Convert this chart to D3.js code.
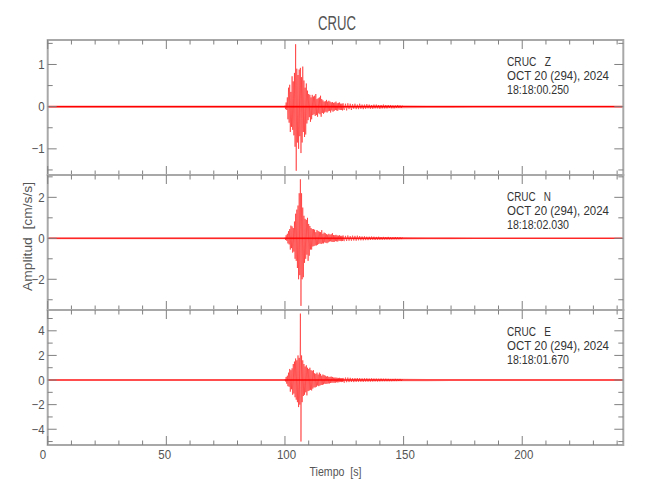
<!DOCTYPE html>
<html><head><meta charset="utf-8">
<script src="https://cdn.jsdelivr.net/npm/d3@7"></script>
<style>
html,body{margin:0;padding:0;background:#fff;}
svg text{font-family:'Liberation Sans','Arial',sans-serif;}
</style></head><body>
<svg id="chart" width="650" height="500"></svg>
<script>
// ---------------- DATA ----------------
const title = "CRUC";
const station = "CRUC";
const components = ["Z", "N", "E"];
const dateLabel = "OCT 20 (294), 2024";
const startTimes = ["18:18:00.250", "18:18:02.030", "18:18:01.670"];
const xLabel = "Tiempo  [s]";
const yLabel = "Amplitud  [cm/s/s]";
const xDomain = [0, 242.6];
const xTickLabels = [0, 50, 100, 150, 200];

// Y axes per component
const yDomainZ = [-1.62, 1.58];
const yDomainN = [-3.5, 3.09];
const yDomainE = [-5.28, 5.69];
const yTicksZ = [-1, 0, 1];
const yTicksN = [-2, 0, 2];
const yTicksE = [-4, -2, 0, 2, 4];
const yMinorZ = [-1.5, -0.5, 0.5, 1.5];
const yMinorN = [-3, -1, 1, 3];
const yMinorE = [-5, -3, -1, 1, 3, 5];

// Strong-motion part: peak amplitudes every 0.25 s from 100.00 s (one row per second)
const burstStart = 100.0, burstStep = 0.25;
const burstZ = [
  0.03, -0.06, 0.10, -0.08,
  0.22, -0.30, 0.45, -0.38,
  0.52, -0.60, 0.35, -0.48,
  0.72, -0.55, 0.60, -0.68,
  0.80, -0.95, 1.48, -1.52,
  0.90, -0.85, 0.75, -1.00,
  0.88, -0.70, 0.92, -1.10,
  0.70, -0.85, 0.95, -0.60,
  0.62, -0.72, 0.45, -0.66,
  0.55, -0.40, 0.38, -0.32,
  0.30, -0.25, 0.28, -0.36,
  0.22, -0.30, 0.28, -0.20,
  0.24, -0.18, 0.26, -0.22,
  0.30, -0.20, 0.18, -0.24,
  0.20, -0.16, 0.22, -0.18,
  0.26, -0.24, 0.18, -0.15,
  0.15, -0.17, 0.12, -0.14,
  0.13, -0.12, 0.16, -0.14,
  0.12, -0.11, 0.14, -0.10,
  0.12, -0.14, 0.10, -0.09,
  0.11, -0.12, 0.09, -0.10,
  0.10, -0.08, 0.12, -0.09,
  0.08, -0.10, 0.09, -0.07,
  0.10, -0.08, 0.07, -0.08,
  0.07, -0.09, 0.08, -0.06
];
const burstN = [
  0.04, -0.08, 0.15, -0.12,
  0.22, -0.25, 0.35, -0.30,
  0.45, -0.55, 0.62, -0.48,
  0.58, -0.70, 0.50, -0.65,
  0.82, -1.00, 1.20, -1.10,
  1.40, -1.45, 1.60, -2.00,
  2.20, -1.80, 2.88, -3.30,
  2.20, -2.00, 1.50, -1.90,
  1.10, -1.20, 0.95, -1.00,
  0.90, -0.80, 1.00, -1.10,
  0.70, -0.85, 0.60, -0.55,
  0.50, -0.55, 0.45, -0.40,
  0.45, -0.38, 0.42, -0.35,
  0.30, -0.35, 0.40, -0.32,
  0.35, -0.28, 0.32, -0.25,
  0.30, -0.28, 0.40, -0.25,
  0.22, -0.25, 0.28, -0.20,
  0.25, -0.22, 0.20, -0.24,
  0.18, -0.20, 0.22, -0.16,
  0.18, -0.15, 0.20, -0.17,
  0.25, -0.18, 0.16, -0.18,
  0.15, -0.14, 0.17, -0.15,
  0.14, -0.16, 0.13, -0.12,
  0.15, -0.13, 0.12, -0.14,
  0.12, -0.13, 0.14, -0.11
];
const burstE = [
  0.08, -0.12, 0.25, -0.30,
  0.35, -0.50, 0.60, -0.55,
  0.90, -0.95, 0.80, -0.75,
  0.95, -1.20, 1.30, -1.10,
  1.50, -1.40, 1.75, -1.60,
  1.60, -1.80, 2.00, -2.20,
  1.80, -2.00, 5.40, -5.00,
  2.00, -1.80, 1.60, -1.30,
  1.30, -1.20, 1.10, -1.00,
  1.20, -1.25, 1.00, -0.90,
  0.90, -0.85, 1.00, -0.80,
  0.80, -0.85, 0.75, -0.70,
  0.80, -0.60, 0.55, -0.60,
  0.50, -0.55, 0.60, -0.45,
  0.45, -0.50, 0.60, -0.45,
  0.50, -0.40, 0.35, -0.40,
  0.45, -0.35, 0.40, -0.30,
  0.35, -0.32, 0.28, -0.30,
  0.32, -0.28, 0.25, -0.28,
  0.26, -0.24, 0.28, -0.22,
  0.25, -0.22, 0.20, -0.22,
  0.20, -0.22, 0.20, -0.18,
  0.18, -0.20, 0.17, -0.18,
  0.18, -0.16, 0.15, -0.17,
  0.16, -0.15, 0.17, -0.14
];

// Coda: peak amplitudes every 0.5 s from 125.0 s (one row per 5 s)
const codaStart = 125.0, codaStep = 0.5;
const codaZ = [
  -0.08, 0.07, -0.09, 0.08, -0.06, 0.07, -0.08, 0.06, -0.05, 0.07,
  -0.06, 0.05, -0.06, 0.07, -0.05, 0.05, -0.06, 0.05, -0.05, 0.06,
  -0.04, 0.05, -0.05, 0.04, -0.05, 0.05, -0.04, 0.05, -0.04, 0.04,
  -0.05, 0.04, -0.04, 0.05, -0.04, 0.04, -0.04, 0.04, -0.03, 0.04,
  -0.04, 0.03, -0.04, 0.03, -0.03, 0.04, -0.03, 0.03, -0.03, 0.03
];
const codaN = [
  -0.14, 0.12, -0.13, 0.14, -0.12, 0.11, -0.12, 0.13, -0.11, 0.12,
  -0.12, 0.13, -0.10, 0.11, -0.10, 0.09, -0.10, 0.10, -0.09, 0.08,
  -0.09, 0.08, -0.08, 0.09, -0.07, 0.08, -0.08, 0.07, -0.07, 0.08,
  -0.07, 0.06, -0.07, 0.07, -0.06, 0.06, -0.06, 0.07, -0.06, 0.05,
  -0.06, 0.05, -0.05, 0.06, -0.05, 0.05, -0.05, 0.05, -0.04, 0.05
];
const codaE = [
  -0.22, 0.20, -0.18, 0.20, -0.17, 0.18, -0.16, 0.15, -0.17, 0.15,
  -0.15, 0.16, -0.14, 0.15, -0.14, 0.13, -0.15, 0.14, -0.13, 0.14,
  -0.13, 0.12, -0.13, 0.14, -0.12, 0.12, -0.11, 0.12, -0.12, 0.11,
  -0.11, 0.12, -0.10, 0.11, -0.10, 0.11, -0.10, 0.10, -0.10, 0.09,
  -0.10, 0.09, -0.09, 0.10, -0.09, 0.09, -0.08, 0.09, -0.08, 0.08
];

// Background noise half-width over the whole record
const noiseTimes = [0,10,20,30,40,50,60,70,80,90,100,110,120,130,140,150,160,170,180,190,200,210,220,230,240,242.6];
const noiseZ = [0.03,0.03,0.03,0.03,0.03,0.03,0.03,0.03,0.03,0.03,0.03,0.03,0.03,0.03,0.035,0.035,0.03,0.03,0.025,0.025,0.025,0.025,0.025,0.025,0.025,0.025];
const noiseN = [0.05,0.05,0.05,0.05,0.05,0.05,0.05,0.05,0.05,0.05,0.05,0.05,0.05,0.05,0.06,0.06,0.05,0.05,0.04,0.04,0.04,0.04,0.04,0.04,0.04,0.04];
const noiseE = [0.08,0.08,0.08,0.08,0.08,0.08,0.08,0.08,0.08,0.08,0.08,0.08,0.08,0.1,0.1,0.1,0.09,0.08,0.08,0.08,0.08,0.08,0.08,0.08,0.08,0.08];

// ---------------- LAYOUT ----------------
const left = 47.7, right = 623.3, top0 = 40, panelH = 135;
const traceColor = "#ff0000";
const frameColor = "#a8a8a8";
const tickColor = "#808080";
const textColor = "#555";

const svg = d3.select("#chart");
const x = d3.scaleLinear().domain(xDomain).range([left, right]);

function fitWidth(sel, w) {
  sel.attr("textLength", w).attr("lengthAdjust", "spacingAndGlyphs");
  return sel;
}
let condenseK = 0.9;
function condense(sel) {
  const w = sel.node().getComputedTextLength();
  return fitWidth(sel, w * condenseK);
}

// measure uniform condensation from the date label (target width ~102 px)
{
  const probe = svg.append("text").attr("font-size", 12.5).text(dateLabel);
  condenseK = 102 / probe.node().getComputedTextLength();
  probe.remove();
}

const panels = [
  {comp: components[0], time: startTimes[0], burst: burstZ, coda: codaZ, noise: noiseZ, domain: yDomainZ, ticks: yTicksZ, minor: yMinorZ},
  {comp: components[1], time: startTimes[1], burst: burstN, coda: codaN, noise: noiseN, domain: yDomainN, ticks: yTicksN, minor: yMinorN},
  {comp: components[2], time: startTimes[2], burst: burstE, coda: codaE, noise: noiseE, domain: yDomainE, ticks: yTicksE, minor: yMinorE}
];

const xTickVals = d3.range(0, xDomain[1], 10);
const fmt = v => (v < 0 ? "\u2212" + Math.abs(v) : String(v));

panels.forEach((p, i) => {
  const y0 = top0 + i * panelH, y1 = y0 + panelH;
  const y = d3.scaleLinear().domain(p.domain).range([y1, y0]);
  const g = svg.append("g");

  const clipId = "clip" + i;
  svg.append("clipPath").attr("id", clipId)
    .append("rect").attr("x", left).attr("y", y0).attr("width", right - left).attr("height", panelH);

  const tg = g.append("g").attr("clip-path", `url(#${clipId})`);

  // noise band
  const noiseData = noiseTimes.map((t, k) => ({t, a: p.noise[k]}));
  tg.append("path").datum(noiseData)
    .attr("d", d3.area().x(d => x(d.t)).y0(d => y(-d.a)).y1(d => y(d.a)))
    .attr("fill", traceColor).attr("opacity", 0.4);
  // baseline trace
  tg.append("path").datum([xDomain[0], xDomain[1]])
    .attr("d", d3.line().x(d => x(d)).y(() => y(0)))
    .attr("stroke", traceColor).attr("stroke-width", 1.1).attr("fill", "none");
  // event trace: burst then coda
  const pts = p.burst.map((v, k) => ({t: burstStart + k * burstStep, v}))
    .concat(p.coda.map((v, k) => ({t: codaStart + k * codaStep, v})));
  tg.append("path").datum(pts)
    .attr("d", d3.line().x(d => x(d.t)).y(d => y(d.v)))
    .attr("stroke", traceColor).attr("stroke-width", 0.5).attr("fill", "none")
    .attr("stroke-linejoin", "round");

  // frame
  g.append("rect").attr("x", left).attr("y", y0).attr("width", right - left).attr("height", panelH)
    .attr("fill", "none").attr("stroke", frameColor).attr("stroke-width", 2);

  // x ticks top & bottom (inward)
  xTickVals.forEach(v => {
    const len = v % 50 === 0 ? 9 : 4.5;
    g.append("line").attr("x1", x(v)).attr("x2", x(v)).attr("y1", y0).attr("y2", y0 + len)
      .attr("stroke", tickColor).attr("stroke-width", 1);
    g.append("line").attr("x1", x(v)).attr("x2", x(v)).attr("y1", y1).attr("y2", y1 - len)
      .attr("stroke", tickColor).attr("stroke-width", 1);
  });
  // y ticks left & right
  p.ticks.forEach(v => {
    [[left, 9], [right, -9]].forEach(([xx, l]) =>
      g.append("line").attr("x1", xx).attr("x2", xx + l).attr("y1", y(v)).attr("y2", y(v))
        .attr("stroke", tickColor).attr("stroke-width", 1));
    condense(g.append("text").attr("x", left - 3).attr("y", y(v)).attr("dy", "0.36em")
      .attr("text-anchor", "end").attr("font-size", 12.5).attr("fill", textColor).text(fmt(v)));
  });
  p.minor.forEach(v => {
    [[left, 5], [right, -5]].forEach(([xx, l]) =>
      g.append("line").attr("x1", xx).attr("x2", xx + l).attr("y1", y(v)).attr("y2", y(v))
        .attr("stroke", tickColor).attr("stroke-width", 1));
  });

  // annotation
  const annLines = [[station + "   " + p.comp, 44], [dateLabel, 102], [p.time, 62]];
  annLines.forEach(([txt, w], k) => {
    fitWidth(g.append("text").attr("x", 507).attr("y", y0 + 25.7 + k * 14.2)
      .attr("font-size", 12.5).attr("fill", "#333").style("white-space", "pre").text(txt), w);
  });

  // x tick labels under last panel
  if (i === panels.length - 1) {
    xTickLabels.forEach(v => {
      condense(g.append("text").attr("x", x(v) - 8).attr("y", y1 + 14)
        .attr("font-size", 12.5).attr("fill", textColor).text(v));
    });
  }
});

// titles
fitWidth(svg.append("text").attr("x", 318).attr("y", 30)
  .attr("font-size", 21).attr("fill", "#555").text(title), 38);
fitWidth(svg.append("text").attr("x", 309.5).attr("y", 476)
  .attr("font-size", 13).attr("fill", textColor).style("white-space", "pre").text(xLabel), 52);
fitWidth(svg.append("text").attr("transform", "translate(32,291) rotate(-90)")
  .attr("font-size", 13).attr("fill", textColor).style("white-space", "pre").text(yLabel), 109);
</script>
</body></html>
